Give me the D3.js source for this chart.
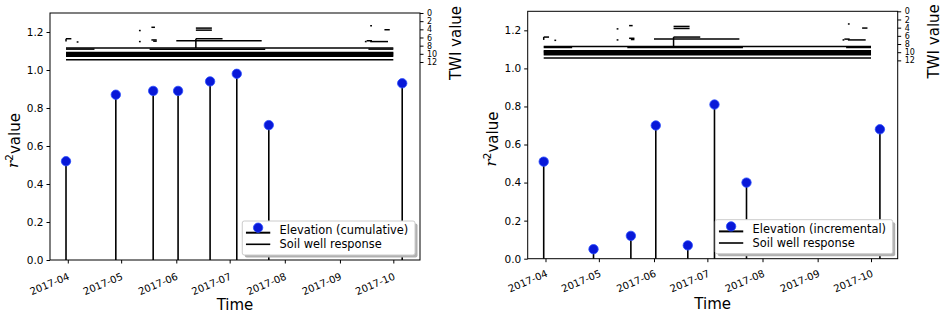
<!DOCTYPE html>
<html><head><meta charset="utf-8">
<script src="https://cdn.jsdelivr.net/npm/d3@7"></script>
<style>
body{margin:0;background:#fff}
svg{display:block}
text{font-family:"DejaVu Sans",sans-serif;fill:#000}
</style></head>
<body><svg id="c" width="943" height="314"></svg>
<script>
// ---------- data ----------
const stemDates = ["2017-03-31","2017-04-28","2017-05-19","2017-06-02","2017-06-20","2017-07-05","2017-07-23","2017-10-06"];
const cumulativeR2 = [0.52,0.87,0.89,0.89,0.94,0.98,0.71,0.93];
const incrementalR2 = [0.51,0.05,0.12,0.70,0.07,0.81,0.40,0.68];
const yTicks = [0.0,0.2,0.4,0.6,0.8,1.0,1.2];
const twiTicks = [0,2,4,6,8,10,12];
const legendLabels = ["Elevation (cumulative)","Elevation (incremental)"];
const wellLabel = "Soil well response";
const dateDomain = ["2017-03-22","2017-10-16"];

// TWI profile segments (start date, end date, TWI value)
const twiStart = ["2017-03-31","2017-03-31","2017-03-31","2017-03-31","2017-03-31","2017-03-31","2017-03-31",
  "2017-03-31","2017-05-17","2017-09-17",
  "2017-06-01","2017-06-12","2017-06-12","2017-06-12",
  "2017-09-18","2017-09-16",
  "2017-03-31","2017-04-06","2017-05-11","2017-05-11","2017-05-18","2017-05-18","2017-05-19",
  "2017-09-15","2017-09-18","2017-09-26"];
const twiEnd = ["2017-10-01","2017-10-01","2017-10-01","2017-10-01","2017-10-01","2017-10-01","2017-10-01",
  "2017-04-16","2017-07-21","2017-10-01",
  "2017-07-19","2017-06-27","2017-06-21","2017-06-21",
  "2017-09-28","2017-09-19",
  "2017-04-03","2017-04-07","2017-05-12","2017-05-12","2017-05-20","2017-05-21","2017-05-21",
  "2017-09-16","2017-09-19","2017-09-29"];
const twiValue = [11.45,10.6,10.35,10.1,9.85,9.65,8.6,
  8.85,8.85,8.85,
  6.8,6.3,3.7,4.2,
  7.0,6.8,
  6.3,7.1,4.3,7.0,3.5,6.6,6.9,
  7.0,3.1,4.1];
const twiDropDate = ["2017-06-12","2017-03-31"];
const twiDropFrom = [6.3,6.3];
const twiDropTo = [8.6,7.0];

// ---------- drawing ----------
const parse = d3.timeParse("%Y-%m-%d");
const svg = d3.select("#c");

const panels = [
  {L:50, R:420, T:13, B:260, values:cumulativeR2, label:legendLabels[0], lx:-1, ly:12},
  {L:527.7, R:897.7, T:11.3, B:258.7, values:incrementalR2, label:legendLabels[1], lx:-0.5, ly:10.5}
];

panels.forEach(p => {
  const g = svg.append("g");
  const x = d3.scaleTime().domain(dateDomain.map(parse)).range([p.L, p.R]);
  const y = d3.scaleLinear().domain([0, 1.3]).range([p.B, p.T]);
  const yT = d3.scaleLinear().domain([0, 60.5]).range([p.T, p.B]);

  // TWI segments
  g.append("g").selectAll("line").data(twiValue).join("line")
    .attr("x1", (d,i) => x(parse(twiStart[i])))
    .attr("x2", (d,i) => x(parse(twiEnd[i])))
    .attr("y1", d => yT(d)).attr("y2", d => yT(d))
    .attr("stroke", "#000").attr("stroke-width", 1.5);
  g.append("g").selectAll("line").data(twiDropDate).join("line")
    .attr("x1", d => x(parse(d))).attr("x2", d => x(parse(d)))
    .attr("y1", (d,i) => yT(twiDropFrom[i])).attr("y2", (d,i) => yT(twiDropTo[i]))
    .attr("stroke", "#000").attr("stroke-width", 1.5);

  // stems
  g.append("g").selectAll("line").data(p.values).join("line")
    .attr("x1", (d,i) => x(parse(stemDates[i])))
    .attr("x2", (d,i) => x(parse(stemDates[i])))
    .attr("y1", y(0)).attr("y2", d => y(d))
    .attr("stroke", "#000").attr("stroke-width", 1.6);
  g.append("g").selectAll("circle").data(p.values).join("circle")
    .attr("cx", (d,i) => x(parse(stemDates[i])))
    .attr("cy", d => y(d)).attr("r", 4.7)
    .attr("fill", "#0818d8").attr("stroke", "#2a4cff").attr("stroke-width", 0.8);

  // frame
  g.append("rect").attr("x", p.L).attr("y", p.T).attr("width", p.R - p.L).attr("height", p.B - p.T)
    .attr("fill", "none").attr("stroke", "#000").attr("stroke-width", 1);

  // left axis
  const ya = g.append("g").attr("transform", `translate(${p.L},0)`)
    .call(d3.axisLeft(y).tickValues(yTicks).tickFormat(d3.format(".1f")).tickSize(3.5).tickPadding(3));
  ya.select(".domain").remove();
  ya.selectAll("text").style("font-size", "10.5px").style("font-family", '"DejaVu Sans",sans-serif');

  // right axis TWI
  const ta = g.append("g").attr("transform", `translate(${p.R},0)`)
    .call(d3.axisRight(yT).tickValues(twiTicks).tickSize(3.5).tickPadding(3.5));
  ta.select(".domain").remove();
  ta.selectAll("text").style("font-size", "8px").style("font-family", '"DejaVu Sans",sans-serif');

  // bottom axis
  const xa = g.append("g").attr("transform", `translate(0,${p.B})`)
    .call(d3.axisBottom(x).ticks(d3.timeMonth.every(1)).tickFormat(d3.timeFormat("%Y-%m")).tickSize(3.5).tickPadding(3));
  xa.select(".domain").remove();
  xa.selectAll("text")
    .style("font-size", "10px").style("font-family", '"DejaVu Sans",sans-serif')
    .attr("text-anchor", "end").attr("dy", "0.75em").attr("y", 0)
    .attr("transform", `translate(${p.lx},${p.ly}) rotate(-23)`);

  // axis titles
  g.append("text").attr("x", (p.L + p.R) / 2).attr("y", p.B + 50)
    .attr("text-anchor", "middle").style("font-size", "15px").text("Time");
  const yl = g.append("text")
    .attr("transform", `translate(${p.L - 32},${(p.T + p.B) / 2 + 4}) rotate(-90)`)
    .attr("text-anchor", "middle").style("font-size", "15px");
  yl.append("tspan").style("font-style", "italic").style("font-family", '"DejaVu Serif",serif').text("r");
  yl.append("tspan").attr("dy", "-0.45em").style("font-size", "10.5px").text("2");
  yl.append("tspan").attr("dy", "0.45em").text("value");
  g.append("text")
    .attr("transform", `translate(${p.R + 41},${p.T + 30}) rotate(-90)`)
    .attr("text-anchor", "middle").style("font-size", "15px").text("TWI value");

  // legend
  const lg = g.append("g");
  const t1 = lg.append("text").style("font-size", "11.4px").text(p.label);
  const tw = t1.node().getComputedTextLength();
  const bw = 37.3 + tw + 6.7, bh = 34;
  const bx = p.R - 5 - bw, by = p.B - 5 - bh;
  lg.insert("rect", "text").attr("x", bx + 2.5).attr("y", by + 2.5).attr("width", bw).attr("height", bh)
    .attr("rx", 2).attr("fill", "#b0b0b0");
  lg.insert("rect", "text").attr("x", bx).attr("y", by).attr("width", bw).attr("height", bh)
    .attr("rx", 2).attr("fill", "#fff").attr("stroke", "#cccccc").attr("stroke-width", 1);
  t1.attr("x", bx + 37.3).attr("y", by + 13);
  lg.append("text").attr("x", bx + 37.3).attr("y", by + 27).style("font-size", "11.4px").text(wellLabel);
  const hx0 = bx + 3.7, hx1 = bx + 28;
  lg.append("line").attr("x1", hx0).attr("x2", hx1).attr("y1", by + 11.7).attr("y2", by + 11.7)
    .attr("stroke", "#000").attr("stroke-width", 2);
  lg.append("line").attr("x1", (hx0 + hx1) / 2).attr("x2", (hx0 + hx1) / 2).attr("y1", by + 11.7).attr("y2", by + 6.7)
    .attr("stroke", "#000").attr("stroke-width", 1.6);
  lg.append("circle").attr("cx", (hx0 + hx1) / 2).attr("cy", by + 6.7).attr("r", 4.7)
    .attr("fill", "#0818d8").attr("stroke", "#2a4cff").attr("stroke-width", 0.8);
  lg.append("line").attr("x1", hx0).attr("x2", hx1).attr("y1", by + 23.3).attr("y2", by + 23.3)
    .attr("stroke", "#000").attr("stroke-width", 1.6);
});
</script></body></html>
